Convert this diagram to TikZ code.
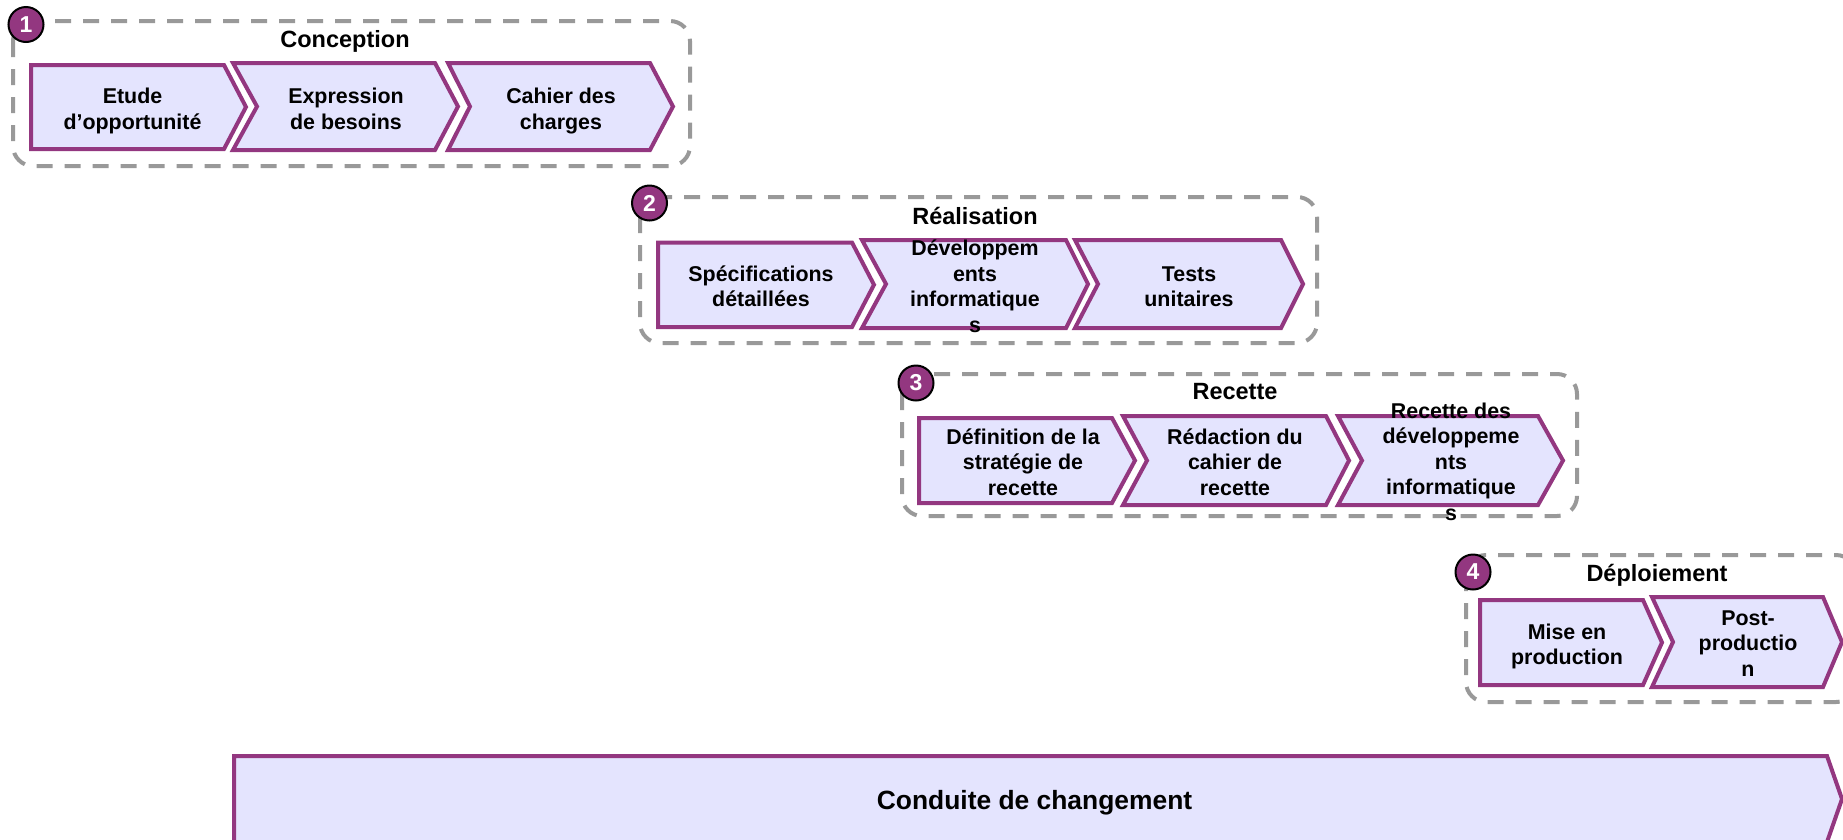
\documentclass[tikz,border=0pt]{standalone}
\usepackage{fontspec}
\setmainfont{Liberation Sans}
\definecolor{cpurple}{RGB}{147,55,128}
\definecolor{cfill}{RGB}{228,228,254}
\definecolor{cgray}{RGB}{153,153,153}
\newcommand\mystrut{\vrule width 0pt height 21pt depth 0pt}
\newcommand\setlsl{\setlength{\lineskiplimit}{-100pt}}
% #1 left, #2 top, #3 bottom, #4 right of body, #5 tip x, #6 notch depth
\newcommand\chev[6]{\draw[chevbox] (#1,#2) -- (#4,#2) -- (#5,{(#2+#3)/2}) -- (#4,#3) -- (#1,#3) -- ({#1+#6},{(#2+#3)/2}) -- cycle;}
\begin{document}
\begin{tikzpicture}[x=1pt,y=-1pt,
  chevbox/.style={draw=cpurple, fill=cfill, line width=4pt, line join=miter},
  groupbox/.style={draw=cgray, line width=4pt, dash pattern=on 16pt off 12pt, rounded corners=20pt},
  badge/.style={circle, draw=black, line width=2pt, fill=cpurple, minimum size=35pt, inner sep=0pt, text=white, font=\bfseries\fontsize{23}{23}\selectfont},
  grouptitle/.style={anchor=base, inner sep=0pt, font=\bfseries\fontsize{23.5}{28}\selectfont},
  ctext/.style={anchor=north, align=center, inner sep=0pt, yshift=-1.5pt, font=\bfseries\fontsize{21.4}{25.5}\selectfont\setlsl},
  bigtext/.style={anchor=base, inner sep=0pt, font=\bfseries\fontsize{26.4}{30}\selectfont}]
\useasboundingbox (0,0) rectangle (1843,839);
\clip (0,0) rectangle (1843,839);

% group frames
\draw[groupbox] (13,21) rectangle (690,166);
\draw[groupbox] (640,197) rectangle (1317,343);
\draw[groupbox] (902,374) rectangle (1577,516);
\draw[groupbox] (1466,555) rectangle (1856,702);

% group 1 chevrons
\chev{31}{65}{149}{224}{246}{0}
\chev{233}{63}{150}{435}{458}{24}
\chev{448}{63}{150}{650}{673}{22}
% group 2 chevrons
\chev{658}{242.5}{327}{852}{874}{0}
\chev{862}{240}{328}{1066}{1088}{24}
\chev{1075}{240}{328}{1281}{1303}{23}
% group 3 chevrons
\chev{919}{418}{503}{1112}{1135}{0}
\chev{1123}{416}{505}{1326}{1349}{24}
\chev{1338}{416}{505}{1538}{1563}{24}
% group 4 chevrons
\chev{1480}{600}{685}{1643}{1662}{0}
\chev{1652}{597}{687}{1823}{1842}{21}
% bottom bar
\draw[chevbox] (234,756) -- (1827,756) -- (1842,799) -- (1827,842) -- (234,842) -- cycle;

% chevron texts
\node[ctext] (t11) at (132.5,81) {\mystrut Etude\\d’opportunité};
\node[ctext] (t12) at (346,81) {\mystrut Expression\\de besoins};
\node[ctext] (t13) at (561,81) {\mystrut Cahier des\\charges};
\node[ctext] (t21) at (761,258.5) {\mystrut Spécifications\\détaillées};
\node[ctext] (t22) at (975,233) {\mystrut Développem\\ents\\informatique\\s};
\node[ctext] (t23) at (1189,258.5) {\mystrut Tests\\unitaires};
\node[ctext] (t31) at (1023,421.6) {\mystrut Définition de la\\stratégie de\\recette};
\node[ctext] (t32) at (1235,421.6) {\mystrut Rédaction du\\cahier de\\recette};
\node[ctext] (t33) at (1451,395.5) {\mystrut Recette des\\développeme\\nts\\informatique\\s};
\node[ctext] (t41) at (1567,616.5) {\mystrut Mise en\\production};
\node[ctext] (t42) at (1748,602.5) {\mystrut Post-\\productio\\n};

% group titles
\node[grouptitle] (g1) at (345,47.3) {Conception};
\node[grouptitle] (g2) at (975,224) {Réalisation};
\node[grouptitle] (g3) at (1235,399) {Recette};
\node[grouptitle] (g4) at (1657,581) {Déploiement};

% bottom bar text
\node[bigtext] (cdc) at (1034.5,809) {Conduite de changement};

% badges
\node[badge] (b1) at (26,24.5) {1};
\node[badge] (b2) at (649.5,203) {2};
\node[badge] (b3) at (916,383) {3};
\node[badge] (b4) at (1473,572) {4};
\end{tikzpicture}
\end{document}
